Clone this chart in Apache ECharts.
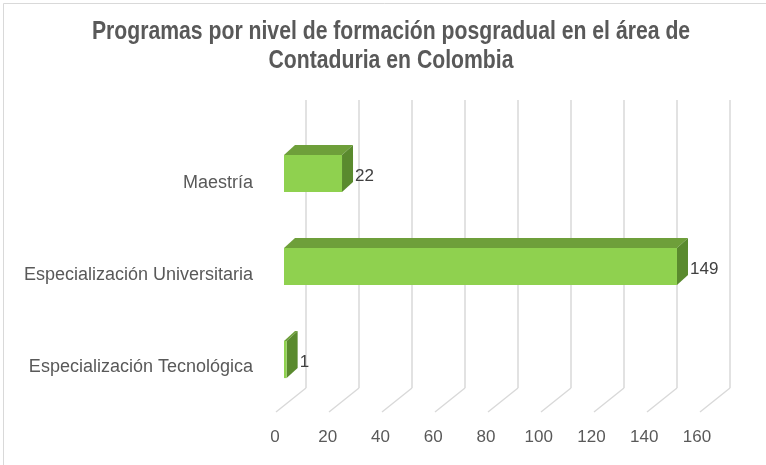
<!DOCTYPE html>
<html>
<head>
<meta charset="utf-8">
<script src="https://cdn.jsdelivr.net/npm/echarts@6/dist/echarts.min.js"></script>
<style>
  html, body { margin: 0; padding: 0; background: #fff; }
  #chart { width: 766px; height: 465px; }
</style>
</head>
<body>
<div id="chart"></div>
<script>
// data
const categories = ['Maestría', 'Especialización Universitaria', 'Especialización Tecnológica'];
const programCounts = [22, 149, 1];
const xTicks = [0, 20, 40, 60, 80, 100, 120, 140, 160];

const titleText = 'Programas por nivel de formación posgradual en el área de\nContaduria en Colombia';

const textColor = '#595959';
const gridColor = '#d9d9d9';
const barColors = {
  front: '#8fd14f',
  top: '#6e9f3a',
  side: '#5a8a2e',
};
// 3d depth of the bars
const depth = [11, -10];

const chart = echarts.init(document.getElementById('chart'));

function renderBar(params, api) {
  const value = api.value(0);
  const start = api.coord([0, api.value(1)]);
  const end = api.coord([value, api.value(1)]);
  const h = api.size([0, 1])[1] * 0.4;
  const x0 = start[0];
  const x1 = end[0];
  const y0 = start[1] - h / 2;
  const y1 = start[1] + h / 2;
  const [dx, dy] = depth;

  return {
    type: 'group',
    children: [
      {
        type: 'polygon',
        shape: { points: [[x0, y0], [x0 + dx, y0 + dy], [x1 + dx, y0 + dy], [x1, y0]] },
        style: { fill: barColors.top },
      },
      {
        type: 'polygon',
        shape: { points: [[x1, y0], [x1 + dx, y0 + dy], [x1 + dx, y1 + dy], [x1, y1]] },
        style: { fill: barColors.side },
      },
      {
        type: 'rect',
        shape: { x: x0, y: y0, width: x1 - x0, height: h },
        style: { fill: barColors.front },
      },
      {
        type: 'text',
        style: {
          text: String(value),
          x: x1 + dx + 2,
          y: start[1] + 3,
          verticalAlign: 'middle',
          align: 'left',
          fill: '#404040',
          font: '17px "Liberation Sans", Arial, sans-serif',
        },
      },
    ],
  };
}

// floor lines from the back wall to the front
function renderFloorLine(params, api) {
  const p = api.coord([api.value(0), 0]);
  return {
    type: 'line',
    shape: { x1: p[0], y1: p[1], x2: p[0] - 30, y2: p[1] + 24 },
    style: { stroke: gridColor, lineWidth: 1.5 },
  };
}

const option = {
  backgroundColor: '#fff',
  animation: false,
  graphic: [
    {
      type: 'polyline',
      shape: { points: [[3.5, 465], [3.5, 3.5], [766, 3.5]] },
      style: { stroke: gridColor, fill: null, lineWidth: 1 },
      silent: true,
    },
    // title, squeezed like a narrow font
    {
      type: 'text',
      x: 391,
      y: 17,
      scaleX: 0.815,
      style: {
        text: titleText,
        x: 0,
        y: 0,
        align: 'center',
        verticalAlign: 'top',
        fill: textColor,
        font: 'bold 26px "Liberation Sans", Arial, sans-serif',
        lineHeight: 29,
      },
      silent: true,
    },
  ],
  grid: [
    // front: axis labels
    { left: 275, top: 137, width: 422, height: 276 },
    // back wall
    { left: 306, top: 100, width: 424, height: 288 },
    // bars
    { left: 284, top: 127, width: 422, height: 279 },
  ],
  xAxis: [
    {
      gridIndex: 0,
      type: 'value',
      min: 0,
      max: 160,
      interval: 20,
      axisLine: { show: false },
      axisTick: { show: false },
      splitLine: { show: false },
      axisLabel: {
        margin: 16,
        color: textColor,
        fontSize: 17,
        fontFamily: '"Liberation Sans", Arial, sans-serif',
      },
    },
    {
      gridIndex: 1,
      type: 'value',
      min: 0,
      max: 160,
      interval: 20,
      axisLine: { show: false },
      axisTick: { show: false },
      axisLabel: { show: false },
      splitLine: { show: true, lineStyle: { color: gridColor, width: 1.5 } },
    },
    {
      gridIndex: 2,
      type: 'value',
      min: 0,
      max: 160,
      show: false,
    },
  ],
  yAxis: [
    {
      gridIndex: 0,
      type: 'category',
      inverse: true,
      data: categories,
      axisLine: { show: false },
      axisTick: { show: false },
      axisLabel: {
        margin: 22,
        color: textColor,
        fontSize: 18,
        fontFamily: '"Liberation Sans", Arial, sans-serif',
      },
    },
    {
      gridIndex: 1,
      type: 'value',
      min: 0,
      max: 1,
      show: false,
    },
    {
      gridIndex: 2,
      type: 'category',
      inverse: true,
      data: categories,
      show: false,
    },
  ],
  series: [
    {
      type: 'custom',
      xAxisIndex: 1,
      yAxisIndex: 1,
      renderItem: renderFloorLine,
      data: xTicks.map((v) => [v]),
      silent: true,
    },
    {
      type: 'custom',
      name: 'Programas',
      xAxisIndex: 2,
      yAxisIndex: 2,
      renderItem: renderBar,
      encode: { x: 0, y: 1 },
      data: programCounts.map((v, i) => [v, i]),
    },
  ],
};

chart.setOption(option);
</script>
</body>
</html>
